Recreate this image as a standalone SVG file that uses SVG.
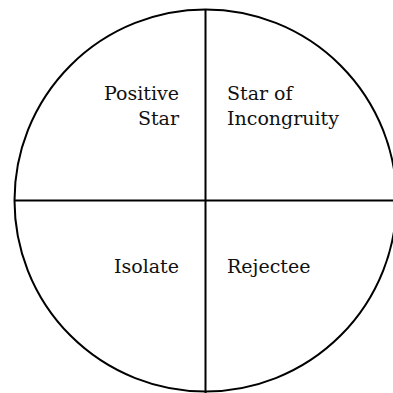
<svg xmlns="http://www.w3.org/2000/svg" width="393" height="393" viewBox="0 0 393 393">
<style>
.ln{stroke:#000;stroke-width:2;fill:none}
.t{font-family:"DejaVu Serif","Liberation Serif",serif;font-size:19px;fill:#111}
.r{text-anchor:end}
</style>
<rect width="393" height="393" fill="#fff"/>
<g id="connectors">
<circle class="ln" cx="205.5" cy="200.5" r="191"/>
<line class="ln" x1="205.5" y1="9.5" x2="205.5" y2="393"/>
<line class="ln" x1="14.5" y1="200.5" x2="393" y2="200.5"/>
</g>
<g id="positive-star"><text class="t r" x="179" y="99.5">Positive</text><text class="t r" x="179" y="125">Star</text></g>
<g id="star-of-incongruity"><text class="t" x="227" y="99.5">Star of</text><text class="t" x="227" y="125">Incongruity</text></g>
<g id="isolate"><text class="t r" x="179" y="273">Isolate</text></g>
<g id="rejectee"><text class="t" x="227" y="273">Rejectee</text></g>
</svg>
